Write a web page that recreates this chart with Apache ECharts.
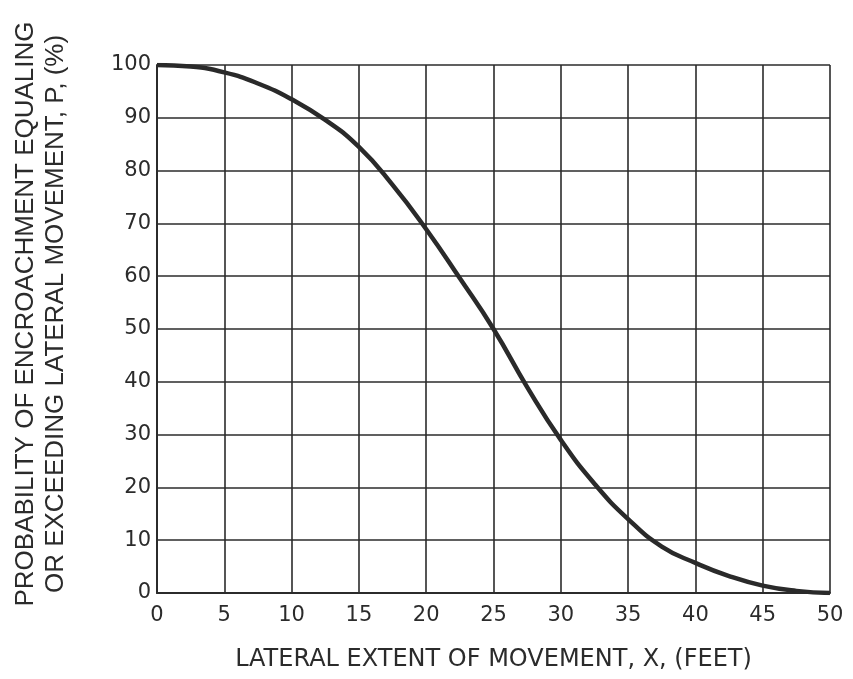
<!DOCTYPE html>
<html>
<head>
<meta charset="utf-8">
<script src="https://cdn.jsdelivr.net/npm/echarts@6/dist/echarts.min.js"></script>
<style>
  html, body { margin: 0; padding: 0; background: #fff; }
  #chart { width: 853px; height: 679px; }
</style>
</head>
<body>
<div id="chart"></div>
<script>
// lateral extent (feet) and probability (%)
const xFeet = [0, 2.5, 5, 7.5, 10, 12.5, 15, 17.5, 20, 22.5, 25, 27.5, 30, 32.5, 35, 37.5, 40, 42.5, 45, 47.5, 50]
const probability = [100, 99.7, 98.6, 96.5, 93.5, 89.6, 84.5, 77.3, 68.9, 59.6, 50, 39, 29, 20.7, 14, 8.8, 5.7, 3.2, 1.4, 0.4, 0]
const xTicks = [0, 5, 10, 15, 20, 25, 30, 35, 40, 45, 50]
const yTicks = [0, 10, 20, 30, 40, 50, 60, 70, 80, 90, 100]

const ink = '#2b2b2b'
const font = 'DejaVu Sans'

let chart = echarts.init(document.getElementById('chart'))
chart.setOption({
  animation: false,
  grid: { left: 157, right: 23, top: 65, bottom: 86, outerBoundsMode: 'none', containLabel: false },
  xAxis: {
    type: 'value',
    min: xTicks[0],
    max: xTicks[xTicks.length - 1],
    interval: 5,
    name: 'LATERAL EXTENT OF MOVEMENT, X, (FEET)',
    nameLocation: 'middle',
    nameGap: 55,
    nameTextStyle: { color: ink, fontSize: 24, fontFamily: font },
    axisLine: { lineStyle: { color: ink, width: 2 } },
    axisTick: { show: false },
    axisLabel: { color: ink, fontSize: 21, fontFamily: font, margin: 12 },
    splitLine: { show: true, lineStyle: { color: ink, width: 1.6 } },
  },
  yAxis: {
    type: 'value',
    min: yTicks[0],
    max: yTicks[yTicks.length - 1],
    interval: 10,
    name: 'PROBABILITY OF ENCROACHMENT EQUALING\nOR EXCEEDING LATERAL MOVEMENT, P, (%)',
    nameLocation: 'middle',
    nameGap: 86,
    nameRotate: 90,
    nameTextStyle: { color: ink, fontSize: 26, fontFamily: 'Liberation Sans', lineHeight: 30, align: 'center', padding: [0, 0, 0, 30] },
    axisLine: { show: true, lineStyle: { color: ink, width: 2 } },
    axisTick: { show: false },
    axisLabel: { color: ink, fontSize: 21, fontFamily: font, margin: 6 },
    splitLine: { show: true, lineStyle: { color: ink, width: 1.6 } },
  },
  series: [
    {
      type: 'line',
      symbol: 'none',
      smooth: true,
      lineStyle: { color: '#2a2a2a', width: 4.5 },
      data: xFeet.map((x, i) => [x, probability[i]]),
    },
  ],
})
</script>
</body>
</html>
